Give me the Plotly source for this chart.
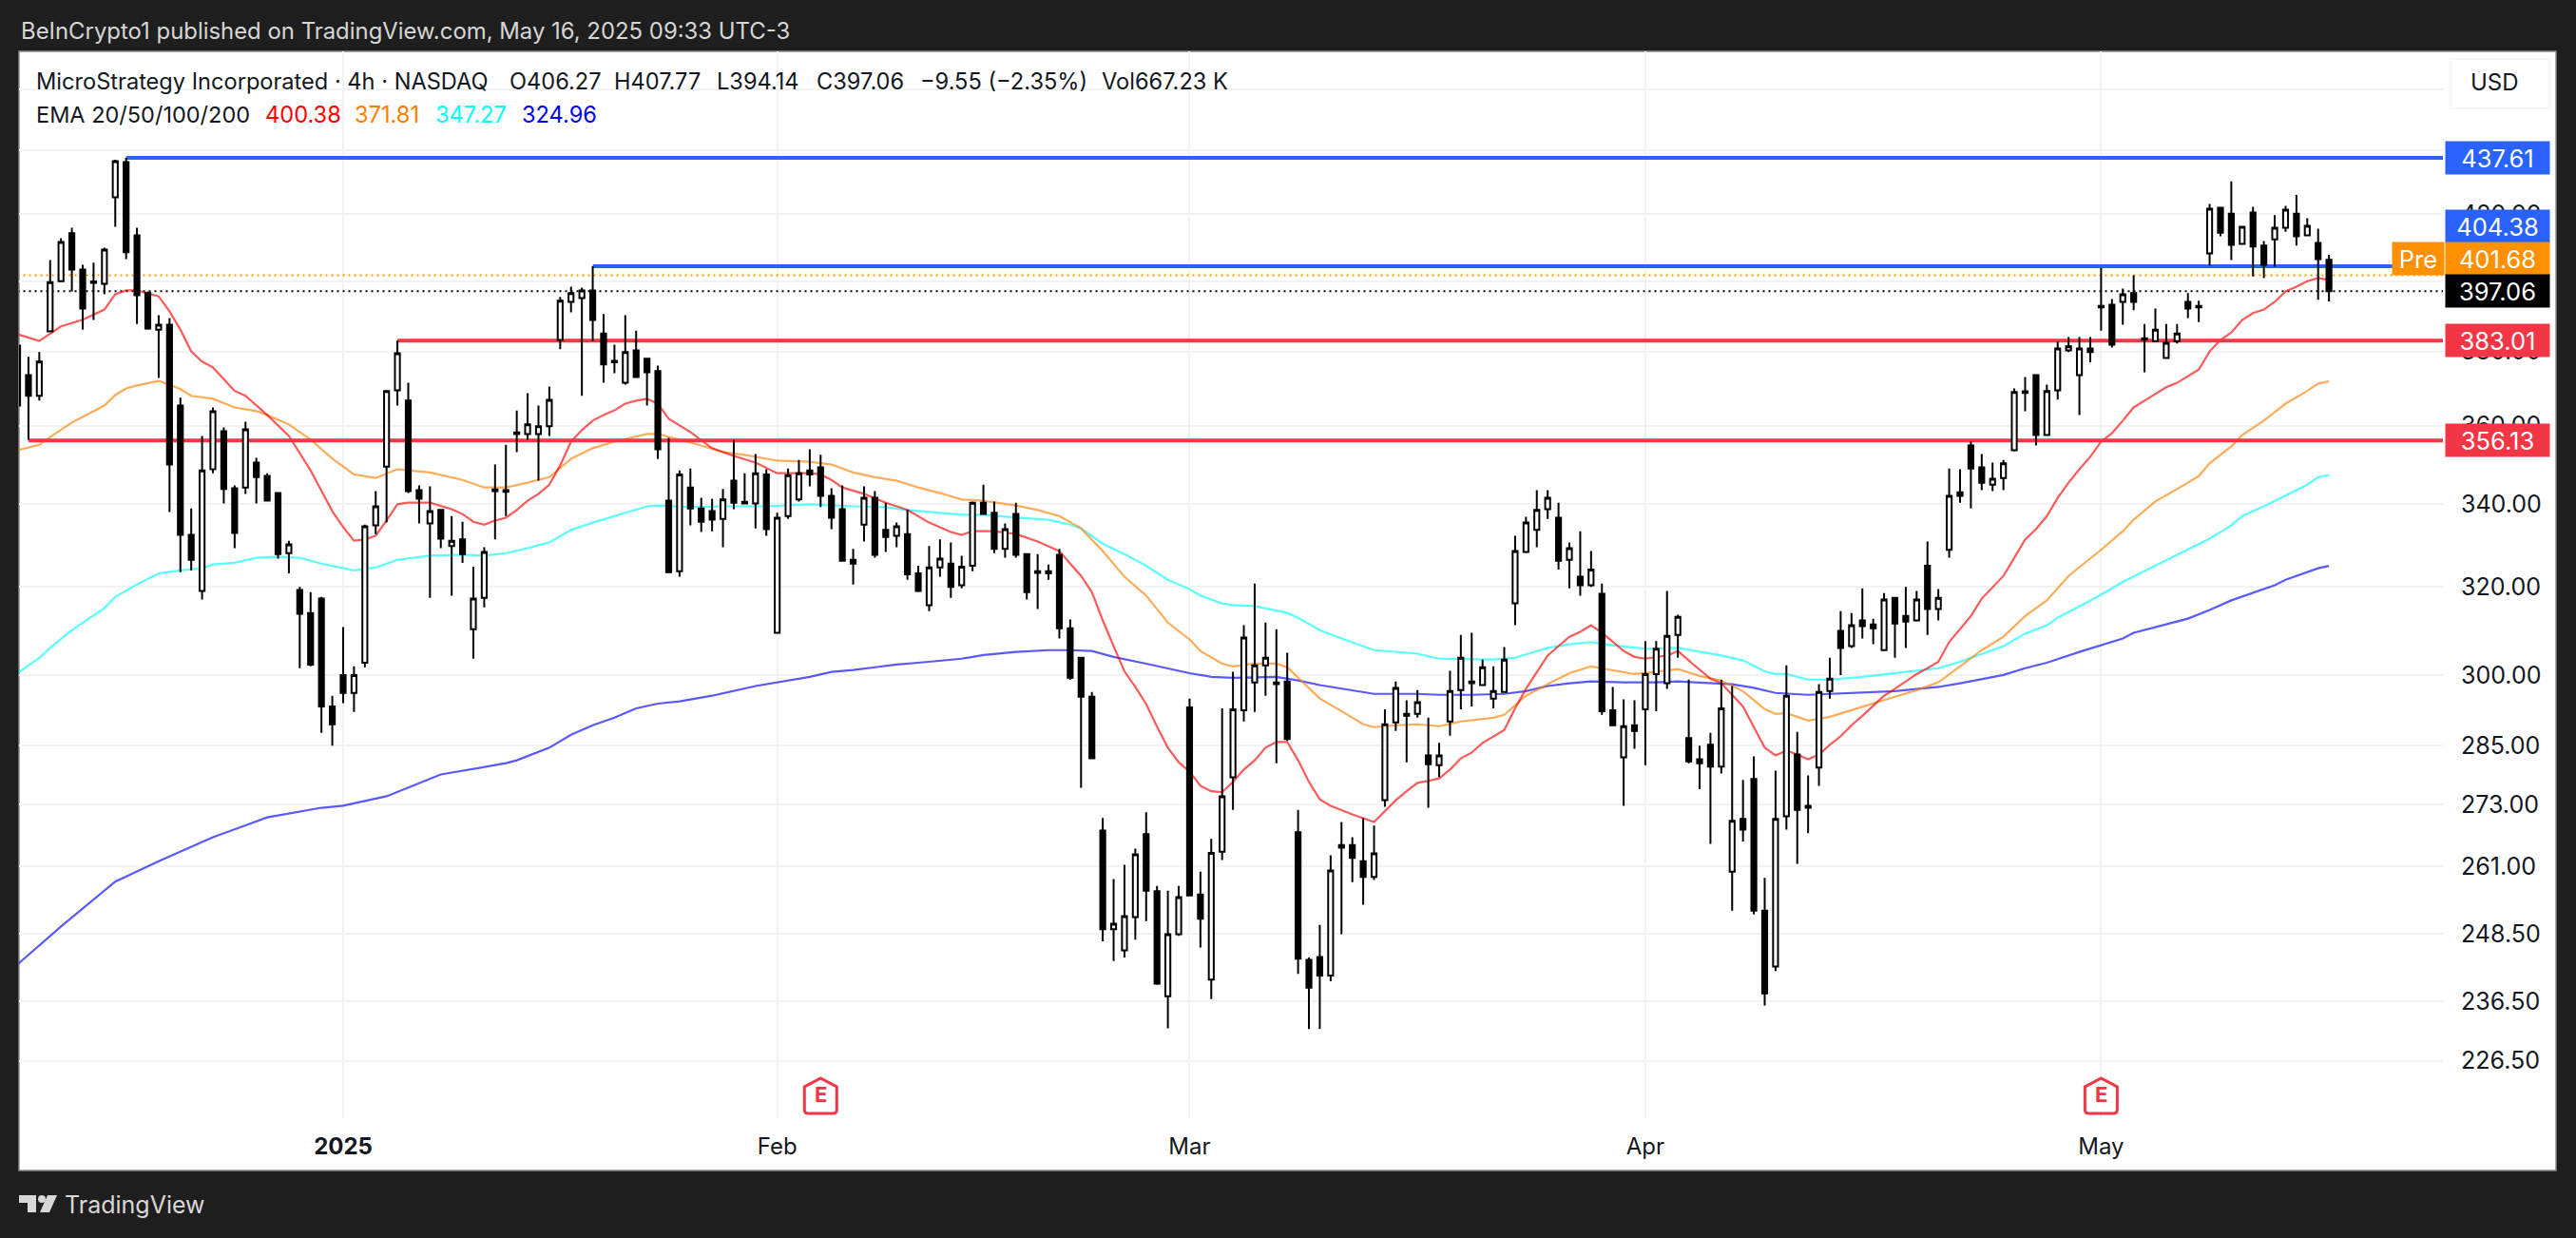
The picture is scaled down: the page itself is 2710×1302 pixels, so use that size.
import math
import plotly.graph_objs as go

W, H = 2710, 1302

opens = [381.6,373.5,367.9,385.6,400.0,414.2,403.4,399.9,399.2,425.2,
         436.3,413.6,396.5,386.1,387.5,365.3,332.4,319.1,348.7,358.5,
         343.9,344.1,350.4,347.0,342.7,328.0,319.3,314.0,317.3,293.3,
         300.1,296.2,302.8,334.7,349.4,369.4,366.6,343.4,335.2,338.5,
         329.7,331.3,310.3,317.5,343.6,343.4,358.2,357.8,357.8,359.8,
         383.2,394.0,395.1,397.3,385.0,377.4,371.4,380.3,378.0,374.6,
         340.8,323.7,344.1,338.9,338.2,336.3,345.8,340.5,340.1,347.4,
         309.5,337.0,341.1,348.4,349.2,342.0,338.7,326.4,334.9,341.5,
         333.6,332.2,332.6,323.2,315.8,324.6,325.5,320.4,325.0,340.3,
         337.8,329.0,337.5,327.8,323.7,323.7,327.6,310.5,303.9,295.4,
         267.9,249.3,245.5,251.5,267.2,256.3,237.4,248.4,293.1,255.7,
         240.3,263.8,278.5,292.5,298.5,302.2,298.5,298.7,267.6,243.8,
         244.3,241.0,264.6,265.1,262.0,259.0,273.9,289.9,291.7,291.7,
         283.0,281.0,290.1,296.8,298.7,297.9,295.0,296.4,316.2,328.3,
         333.6,338.7,336.6,326.4,322.4,320.4,318.4,292.5,282.6,289.3,
         292.7,300.3,298.3,309.0,286.6,282.2,285.2,280.7,260.0,270.2,
         278.2,252.7,242.6,270.7,283.2,272.8,280.5,296.6,309.9,306.5,
         312.3,311.4,305.6,317.5,313.3,312.3,325.0,314.9,328.8,342.9,
         354.8,349.2,344.8,346.5,353.6,369.1,373.5,357.5,369.4,380.3,
         373.5,380.8,392.8,393.2,394.0,396.5,383.7,382.9,378.2,382.9,
         394.0,392.8,408.2,422.0,420.2,411.0,420.5,410.5,412.4,415.9,
         420.2,413.6,411.3,406.27]
highs = [381.6,378.5,379.8,406.2,412.7,415.9,404.8,405.4,409.9,437.0,
         437.61,415.9,397.0,390.2,389.4,367.4,338.9,357.3,364.8,359.5,
         344.6,361.0,351.6,347.7,342.9,331.0,320.0,318.8,317.7,295.6,
         310.8,302.0,334.9,343.2,369.2,383.01,371.4,344.6,344.4,338.7,
         337.0,335.6,324.8,329.4,349.9,355.0,364.0,368.6,365.3,370.4,
         395.4,398.4,398.1,404.38,390.5,381.9,390.2,385.8,378.0,376.1,
         356.8,348.4,348.9,341.5,341.3,343.7,356.3,347.7,352.6,348.7,
         337.8,348.9,351.1,353.8,352.4,343.9,344.6,329.0,344.4,343.2,
         340.3,335.4,338.5,325.0,329.7,331.3,330.6,327.4,340.6,344.8,
         340.6,335.2,340.3,327.8,327.8,325.3,329.0,312.5,303.9,296.4,
         270.4,258.6,261.3,264.4,271.5,257.3,256.4,257.3,295.0,260.0,
         266.3,292.9,300.8,311.2,320.8,311.8,310.3,305.0,272.0,244.2,
         250.1,263.1,269.6,266.6,270.4,268.9,292.7,298.7,294.6,296.8,
         290.9,285.6,301.0,309.0,309.5,303.5,302.0,306.3,332.2,336.8,
         343.4,343.4,340.3,330.6,333.3,328.5,320.8,297.5,294.8,294.6,
         307.6,307.6,319.1,313.6,299.1,285.0,287.7,299.1,297.7,278.0,
         282.8,258.8,279.9,302.2,287.9,278.9,298.1,303.9,314.4,314.0,
         319.7,312.7,318.6,317.5,320.0,319.1,330.8,319.5,348.9,348.7,
         355.8,352.6,350.4,351.1,369.9,373.0,373.5,370.9,382.7,384.0,
         384.0,384.0,403.9,394.8,397.8,401.7,387.7,392.1,387.7,387.7,
         396.5,394.3,423.2,422.3,430.2,416.5,422.3,411.9,419.7,422.6,
         426.0,418.8,415.6,407.77]
lows = [365.3,356.3,366.6,385.6,400.0,397.0,386.1,388.8,396.2,416.2,
        406.5,387.7,386.1,372.7,338.0,323.5,323.9,317.1,347.7,340.1,
        329.2,342.5,340.1,340.6,326.7,323.2,301.6,302.0,287.7,285.0,
        294.0,292.1,301.8,332.6,335.4,365.3,342.7,335.2,317.5,329.2,
        318.0,325.7,303.7,315.3,331.3,337.0,353.1,356.3,345.8,357.3,
        380.6,391.0,367.9,382.9,371.4,374.0,370.9,373.0,365.3,351.3,
        323.5,322.4,334.7,333.1,333.3,329.4,338.7,340.0,334.0,332.2,
        309.5,336.3,340.6,344.4,339.2,333.8,326.0,320.6,330.8,326.9,
        328.3,329.4,321.7,318.8,314.4,322.4,317.5,319.7,323.7,337.3,
        328.0,326.9,326.9,317.1,314.9,321.7,308.2,299.1,276.4,282.4,
        247.1,243.6,244.2,247.4,250.8,239.4,231.9,248.1,255.5,246.0,
        236.9,262.2,272.0,290.1,292.1,295.6,281.4,286.0,241.3,231.8,
        231.8,240.0,248.4,258.0,253.8,258.4,272.6,288.1,281.6,290.9,
        272.4,278.5,287.1,292.7,293.3,297.7,292.9,296.2,311.2,328.0,
        329.4,336.3,324.1,319.7,318.0,320.0,291.5,289.1,272.8,284.4,
        281.0,292.3,297.1,303.9,281.4,276.1,265.3,279.3,252.7,265.8,
        252.0,235.8,241.8,268.1,261.5,267.4,276.8,295.0,300.1,306.1,
        308.2,306.9,305.6,303.9,306.1,312.0,309.0,312.3,326.9,340.3,
        338.9,343.4,343.2,343.4,353.3,363.8,354.8,357.5,366.9,379.8,
        362.8,377.0,385.8,381.1,387.5,391.6,374.3,382.7,378.2,382.2,
        389.4,388.2,404.5,413.3,406.2,411.0,401.4,400.9,404.2,414.7,
        410.5,413.6,394.6,394.14]
closes = [365.3,367.9,377.2,399.7,411.6,403.4,392.1,399.5,409.3,436.6,
          408.5,395.9,386.4,387.5,349.9,332.4,326.4,348.4,363.8,343.7,
          332.9,359.0,346.7,340.8,327.8,330.1,313.8,302.4,293.3,289.5,
          296.2,300.1,334.5,339.4,369.2,379.5,343.2,341.3,338.2,331.5,
          331.0,327.8,317.3,328.3,343.2,343.0,357.8,360.3,359.8,366.8,
          394.3,396.5,397.3,388.8,376.4,377.0,379.8,373.0,374.3,353.8,
          323.5,347.4,338.9,335.6,336.1,341.1,340.3,340.1,347.7,333.8,
          336.6,347.2,347.7,347.4,342.0,336.6,326.2,325.5,341.5,327.6,
          331.9,334.5,323.0,319.1,324.6,326.7,320.0,324.8,340.3,337.5,
          329.0,333.8,327.6,318.8,323.3,323.2,310.5,299.5,295.4,282.4,
          249.3,250.3,251.7,263.3,256.4,239.6,248.4,255.2,255.5,251.2,
          263.6,274.7,292.7,308.4,302.2,303.9,298.1,286.4,244.0,238.9,
          241.0,260.2,265.1,262.6,259.0,263.5,289.5,297.3,291.3,294.2,
          281.2,283.0,296.6,303.9,298.3,301.8,296.6,303.5,328.5,335.4,
          338.5,341.5,326.2,329.2,320.4,324.1,292.3,289.3,289.1,288.1,
          300.3,305.9,308.8,313.1,281.8,281.4,280.7,292.9,269.8,268.1,
          252.7,237.9,270.2,295.6,272.0,272.4,296.4,299.3,306.1,311.2,
          311.0,310.5,317.1,311.6,312.0,317.1,314.9,317.5,342.0,342.0,
          348.9,345.3,346.3,350.2,368.9,368.7,357.5,369.2,380.8,381.4,
          380.8,379.8,392.4,381.9,396.2,394.0,383.3,386.1,382.4,385.0,
          392.1,392.4,421.7,414.4,410.7,416.2,410.2,404.8,415.9,421.4,
          413.3,416.5,406.5,397.06]

ema20_idx = [0,2,4,6,8,9,10,11,13,14,15,16,17,18,20,21,23,25,27,29,30,31,32,33,34,35,36,38,40,41,
             42,43,44,45,46,47,48,49,50,51,52,53,54,55,56,57,58,59,60,62,64,66,68,70,71,73,74,75,76,78,
             80,82,84,86,87,88,90,92,94,96,97,98,99,100,101,102,103,104,105,106,107,108,109,110,111,112,113,114,115,116,
             117,118,119,120,121,123,125,126,127,128,129,130,131,132,133,134,135,137,138,139,140,141,142,143,144,145,146,147,148,149,
             150,152,153,154,155,156,157,158,159,160,161,162,163,164,165,166,167,168,169,170,171,172,173,174,175,176,177,178,179,180,
             181,182,183,184,185,186,187,188,189,190,191,192,193,194,195,196,197,198,199,200,201,202,203,204,205,206,207,208,209,210,
             211,212,213]
ema20 = [384.8,382.9,387.0,388.9,391.8,396.2,397.3,397.3,395.6,391.3,386.1,380.0,377.2,375.6,369.2,367.9,362.8,357.3,348.4,338.2,334.3,331.0,331.3,332.2,335.9,339.9,340.3,340.3,338.7,337.5,
         335.6,334.9,335.9,336.6,338.5,340.8,342.5,344.8,349.7,355.8,358.8,361.3,362.8,364.0,365.8,366.6,367.1,365.8,361.8,358.3,354.1,352.1,350.4,347.7,347.7,347.7,347.4,346.0,344.1,342.5,
         340.3,338.5,335.4,333.1,332.4,333.3,333.3,332.6,330.8,328.5,325.5,322.6,318.8,312.3,306.5,300.9,297.5,293.8,289.0,284.6,281.6,279.7,276.8,275.7,275.5,277.6,280.1,282.0,284.6,285.8,
         285.8,282.0,277.6,274.1,272.8,271.1,269.6,271.8,273.9,275.7,277.4,277.8,278.3,280.1,282.4,283.6,285.6,288.3,292.9,297.1,300.8,304.4,306.5,308.6,309.7,311.2,309.5,307.4,305.4,304.1,
         303.7,304.4,305.4,303.3,301.2,299.3,298.3,295.8,293.3,288.9,284.6,283.0,284.0,283.2,282.2,283.2,285.2,287.0,289.3,291.3,293.5,295.6,297.1,298.7,300.3,301.6,303.0,307.4,310.3,313.3,
         317.3,320.0,322.6,326.9,331.3,333.8,337.0,341.5,345.3,348.7,351.9,355.8,358.0,361.3,364.8,366.6,368.4,370.2,371.4,373.2,375.0,380.0,383.2,385.3,388.8,390.8,391.8,394.0,397.0,398.4,
         400.0,400.9,400.38]

ema50_idx = [0,2,3,5,7,8,9,10,11,13,14,15,16,18,20,22,23,25,27,29,31,33,35,38,41,43,45,47,49,51,53,55,58,59,61,63,65,67,70,73,
             75,77,79,81,83,85,87,89,92,94,96,98,100,102,104,106,108,109,111,112,114,116,117,118,120,122,124,125,127,129,
             131,133,136,137,139,141,143,145,147,149,151,153,155,157,159,161,162,163,165,167,169,171,173,175,177,179,181,183,185,187,
             189,192,194,195,197,199,201,202,204,205,207,209,211,212,213]
ema50 = [353.6,355.0,357.0,360.8,363.8,365.3,368.1,369.9,370.7,371.9,370.9,369.7,367.9,367.1,364.8,363.8,362.8,360.3,356.3,351.4,347.4,346.5,348.7,347.9,346.0,344.1,344.1,345.3,346.7,351.4,354.1,355.8,357.8,357.8,356.3,354.8,353.1,352.4,350.9,350.6,
         349.9,347.9,346.7,345.8,344.1,342.7,341.1,340.8,339.6,338.5,337.0,334.0,328.5,322.4,318.0,311.8,308.0,305.4,302.6,302.0,302.6,302.6,301.8,299.5,295.0,292.3,289.5,288.9,289.3,289.5,
         289.1,290.1,290.9,291.5,295.6,298.1,300.5,302.0,301.2,300.3,300.8,301.4,299.9,298.9,296.6,292.7,291.7,291.9,290.3,291.1,292.5,294.0,295.4,296.8,298.5,302.0,305.6,308.6,313.3,316.9,
         322.6,328.8,333.3,336.1,340.6,343.7,347.0,350.2,354.6,357.5,361.3,365.8,369.2,371.2,371.81]

ema100_idx = [0,2,3,5,8,9,11,13,15,17,18,20,22,24,26,28,31,33,35,38,41,43,45,47,49,51,53,55,58,59,62,65,69,73,75,77,80,82,84,87,
              89,92,95,97,98,100,102,104,106,108,109,111,112,114,117,118,120,122,125,127,129,131,134,136,138,141,143,145,147,150,
              153,155,157,159,161,162,163,165,167,170,173,177,179,181,183,185,187,188,192,194,196,199,202,204,205,207,209,211,212,213]
ema100 = [300.5,303.9,306.1,310.1,315.1,317.7,320.6,323.2,323.9,324.4,325.3,325.7,326.9,327.1,326.9,325.5,323.9,324.6,326.4,327.4,327.6,327.4,328.0,329.2,330.6,333.6,335.4,337.0,339.4,339.6,339.2,339.4,339.4,339.9,339.6,339.4,339.2,338.5,338.0,337.3,
          337.3,336.6,336.1,334.9,334.0,330.3,327.8,325.0,321.7,319.5,318.0,316.2,315.8,315.6,314.0,312.9,310.1,308.2,305.6,305.2,304.8,303.7,303.5,303.5,303.9,306.1,306.9,307.4,306.7,305.9,
          306.1,305.2,304.4,303.3,300.9,300.3,300.3,299.1,299.1,299.7,300.5,301.6,303.0,304.8,306.5,309.3,311.2,312.9,318.2,321.2,323.7,327.6,331.5,334.7,337.0,339.4,342.0,344.8,346.7,347.27]

ema200_idx = [0,2,4,9,13,18,23,28,30,34,39,45,46,49,51,53,55,57,59,61,64,68,70,73,75,77,79,81,83,87,
              89,92,95,97,99,101,104,106,108,110,112,116,118,120,122,125,129,131,134,137,139,141,143,145,148,151,153,156,158,160,
              162,165,167,170,173,177,179,183,185,187,190,194,195,198,200,202,204,208,209,212,213]
ema200 = [243.0,246.4,249.8,258.1,262.0,266.6,270.5,272.4,272.8,274.7,279.1,281.4,282.0,284.6,287.3,289.3,290.9,292.9,293.9,294.4,295.6,297.7,298.5,299.7,300.8,301.2,301.8,302.4,302.8,303.7,
          304.5,305.2,305.6,305.6,305.4,304.1,302.6,301.6,300.5,299.7,299.5,299.7,298.9,297.9,297.1,296.0,296.0,295.8,295.8,296.0,296.6,297.7,298.3,298.7,298.5,298.5,298.7,298.3,298.1,297.3,
          296.2,295.8,296.0,296.2,296.6,297.5,298.3,300.1,301.6,302.8,305.2,308.2,309.5,311.4,312.7,314.7,316.9,320.4,321.7,324.4,324.96]

y_ticks = [460, 440, 420, 400, 380, 360, 340, 320, 300, 285, 273, 261, 248.5, 236.5, 226.5]
# these three sit fully behind the usd box and price tags in the original
y_ticks_covered = [460, 440, 400]
month_idx = [30, 70, 108, 150, 192]
month_text = ['<b>2025</b>', 'Feb', 'Mar', 'Apr', 'May']
earnings_idx = [74, 192]

level_values = [437.61, 404.38, 383.01, 356.13]
level_starts = [10, 53, 35, 1]
level_colors = ['#2962ff', '#2962ff', '#f23645', '#f23645']
price_last = 397.06
price_pre = 401.68

FONT = 'Inter'
DARK = '#131722'
BG = '#1e1e1e'
X_END = 223.5


def fx(px):
    return px / W


def fy(px):
    return 1 - px / H


x = list(range(len(opens)))
fig = go.Figure()

# pre-market and last price, dotted
for val, col in [(price_pre, '#ff9800'), (price_last, '#000000')]:
    fig.add_trace(go.Scatter(x=[0, X_END], y=[val, val], mode='lines',
                             line=dict(color=col, width=2, dash='2px,4px')))

for idx, vals, col in [(ema200_idx, ema200, 'rgba(0,0,255,0.65)'),
                       (ema100_idx, ema100, 'rgba(0,255,255,0.65)'),
                       (ema50_idx, ema50, 'rgba(255,127,0,0.65)'),
                       (ema20_idx, ema20, 'rgba(255,0,0,0.65)')]:
    fig.add_trace(go.Scatter(x=idx, y=vals, mode='lines', line=dict(color=col, width=2.2)))

for val, start, col in zip(level_values, level_starts, level_colors):
    fig.add_trace(go.Scatter(x=[start, X_END], y=[val, val], mode='lines',
                             line=dict(color=col, width=4)))

# candles go on an overlaying axis so they are drawn over the lines
fig.add_trace(go.Candlestick(x=x, open=opens, high=highs, low=lows, close=closes, yaxis='y2',
                             whiskerwidth=0,
                             increasing=dict(line=dict(color='#000000', width=2), fillcolor='#ffffff'),
                             decreasing=dict(line=dict(color='#000000', width=2), fillcolor='#000000')))

y_range = [math.log10(217.2), math.log10(473.0)]
shapes = [
    dict(type='rect', xref='paper', yref='paper', x0=fx(20), x1=fx(2689), y0=fy(1231), y1=fy(54),
         fillcolor='#ffffff', line=dict(color='#8a8a8a', width=1.5), layer='below'),
    # usd button
    dict(type='rect', xref='paper', yref='paper', x0=fx(2578), x1=fx(2682), y0=fy(114), y1=fy(62),
         fillcolor='#ffffff', line=dict(color='#f0f3fa', width=1.5)),
    # tradingview logo
    dict(type='path', xref='paper', yref='paper', fillcolor='#d8d8d8', line=dict(width=0),
         path=f'M{fx(20)} {fy(1257)} H{fx(38)} V{fy(1275)} H{fx(29)} V{fy(1265)} H{fx(20)} Z'),
    dict(type='circle', xref='paper', yref='paper', fillcolor='#d8d8d8', line=dict(width=0),
         x0=fx(40), x1=fx(48), y0=fy(1265), y1=fy(1257)),
    dict(type='path', xref='paper', yref='paper', fillcolor='#d8d8d8', line=dict(width=0),
         path=f'M{fx(50)} {fy(1257)} H{fx(60)} L{fx(52)} {fy(1275)} H{fx(42)} Z'),
]
for i in earnings_idx:
    shapes.append(dict(type='path', xref='x', yref='paper', xsizemode='pixel', ysizemode='pixel',
                       xanchor=i, yanchor=fy(1153), fillcolor='#ffffff',
                       line=dict(color='#f23645', width=3),
                       path='M -17 10 L -17 -14 Q -17 -18 -13 -18 L 13 -18 Q 17 -18 17 -14 L 17 10 L 0 19 Z'))


def text(s, px, py, size, color=DARK, anchor='left'):
    return dict(text=s, xref='paper', yref='paper', x=fx(px), y=fy(py), xanchor=anchor, yanchor='middle',
                showarrow=False, font=dict(family=FONT, size=size, color=color))


annotations = [
    text('BeInCrypto1 published on TradingView.com, May 16, 2025 09:33 UTC-3', 20, 33, 23.9, '#d6d6d6'),
    text('MicroStrategy Incorporated · 4h · NASDAQ', 36, 86, 23.6),
    text('O406.27', 534, 86, 23.6),
    text('H407.77', 644, 86, 23.6),
    text('L394.14', 752, 86, 23.6),
    text('C397.06', 857, 86, 23.6),
    text('−9.55 (−2.35%)', 966, 86, 23.6),
    text('Vol667.23 K', 1157, 86, 23.6),
    text('EMA 20/50/100/200', 36, 120, 23.5),
    text('400.38', 277, 120, 23.6, '#ff0000'),
    text('371.81', 371, 120, 23.6, '#ff8000'),
    text('347.27', 456, 120, 23.6, '#00ffff'),
    text('324.96', 547, 120, 23.6, '#0000ff'),
    text('USD', 2597, 87, 24),
    text('TradingView', 66, 1267, 25, '#d8d8d8'),
]
for i in earnings_idx:
    annotations.append(dict(text='<b>E</b>', xref='x', yref='paper', x=i, y=fy(1151), showarrow=False,
                            xanchor='center', yanchor='middle', font=dict(family=FONT, size=22, color='#f23645')))


def price_label(s, val, col, shift=0, px=2572, wid=109):
    return dict(text=s, xref='paper', yref='y', x=fx(px), y=math.log10(val), yshift=shift, xanchor='left',
                yanchor='middle', showarrow=False, width=wid, height=34, align='center', valign='middle',
                bgcolor=col, borderpad=0, font=dict(family=FONT, size=25.5, color='#ffffff'))


annotations += [
    price_label('437.61', level_values[0], '#2962ff'),
    price_label('404.38', level_values[1], '#2962ff', 42),
    price_label('401.68', price_pre, '#ff9000', 18),
    price_label('Pre', price_pre, '#ff9000', 18, 2516, 54),
    price_label('397.06', price_last, '#000000'),
    price_label('383.01', level_values[2], '#f23645'),
    price_label('356.13', level_values[3], '#f23645'),
]

y_tick_text = ['' if t in y_ticks_covered else f'{t:.2f}' for t in y_ticks]

fig.update_layout(
    width=W, height=H, margin=dict(l=0, r=0, t=0, b=0), showlegend=False,
    paper_bgcolor=BG, plot_bgcolor='rgba(0,0,0,0)', boxgap=0.35,
    font=dict(family=FONT, color=DARK, size=24),
    shapes=shapes, annotations=annotations,
    xaxis=dict(domain=[fx(20), fx(2570)], range=[0.13, X_END], rangeslider=dict(visible=False),
               tickmode='array', tickvals=month_idx, ticktext=month_text, ticks='', ticklabelstandoff=13,
               showgrid=True, gridcolor='#f3f3f4', gridwidth=2, zeroline=False, showline=False,
               tickfont=dict(family=FONT, size=24, color=DARK)),
    yaxis=dict(domain=[fy(1176), fy(54)], type='log', range=y_range, side='right',
               tickmode='array', tickvals=y_ticks, ticktext=y_tick_text,
               ticks='', ticklabelstandoff=18, showgrid=True, gridcolor='#f3f3f4', gridwidth=2,
               zeroline=False, showline=False, tickfont=dict(family=FONT, size=25, color=DARK)),
    yaxis2=dict(domain=[fy(1176), fy(54)], type='log', range=y_range, overlaying='y', side='right',
                showticklabels=False, showgrid=False, zeroline=False, ticks=''),
)

fig.write_html('out.html', config=dict(displayModeBar=False),
               post_script="document.body.style.margin='0';document.body.style.background='#1e1e1e';")
